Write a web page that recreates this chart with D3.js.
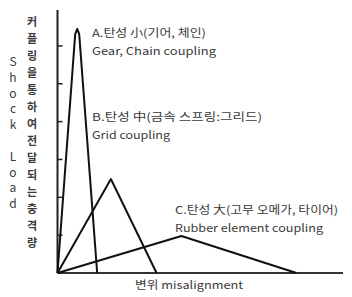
<!DOCTYPE html>
<html>
<head>
<meta charset="UTF-8">
<script src="https://cdn.jsdelivr.net/npm/d3@7"></script>
<style>
  body { margin: 0; background: #fff; }
  text { fill: #3a3a3a; font-family: "Noto Sans CJK KR", "Noto Sans", sans-serif; }
</style>
</head>
<body>
<svg width="352" height="297"></svg>
<script>
  // shock load vs misalignment (0..100 units)
  var curveA = [[0, 0], [6.2, 91.5], [6.9, 93.5], [7.6, 91.5], [13.9, 0]];
  var curveB = [[0, 0], [18.7, 36], [34.7, 0]];
  var curveC = [[0, 0], [43.4, 14.2], [83.7, 0]];
  var yTicks = [14.5, 29, 43.5, 58, 72.5, 87];

  var labelA = ["A.탄성 小(기어, 체인)", "Gear, Chain coupling"];
  var labelB = ["B.탄성 中(금속 스프링:그리드)", "Grid coupling"];
  var labelC = ["C.탄성 大(고무 오메가, 타이어)", "Rubber element coupling"];
  var xTitle = "변위 misalignment";
  var yTitleKo = "커플링을통하여전달되는충격량";
  var yTitleEn = "Shock Load";

  var svg = d3.select("svg");

  var x = d3.scaleLinear().domain([0, 100]).range([57.5, 343]);
  var y = d3.scaleLinear().domain([0, 100]).range([273, 12]);

  var line = d3.line()
      .x(function(d) { return x(d[0]); })
      .y(function(d) { return y(d[1]); });

  // axes
  svg.append("line")
      .attr("x1", x(0)).attr("x2", x(0))
      .attr("y1", 10).attr("y2", y(0))
      .attr("stroke", "#222").attr("stroke-width", 2);

  svg.append("line")
      .attr("x1", x(0)).attr("x2", x(100))
      .attr("y1", y(0)).attr("y2", y(0))
      .attr("stroke", "#333").attr("stroke-width", 2);

  svg.selectAll("line.tick").data(yTicks).enter()
      .append("line")
      .attr("class", "tick")
      .attr("x1", x(0)).attr("x2", x(0) + 5)
      .attr("y1", function(d) { return y(d); })
      .attr("y2", function(d) { return y(d); })
      .attr("stroke", "#222").attr("stroke-width", 1.5);

  svg.selectAll("path.curve").data([curveA, curveB, curveC]).enter()
      .append("path")
      .attr("class", "curve")
      .attr("fill", "none")
      .attr("stroke", "#111")
      .attr("stroke-width", 2)
      .attr("stroke-linejoin", "round")
      .attr("d", line);

  function label(lines, lx, ly, widths) {
    lines.forEach(function(t, i) {
      svg.append("text")
          .attr("x", lx).attr("y", ly + i * 18)
          .attr("font-size", 11)
          .attr("textLength", widths[i])
          .attr("lengthAdjust", "spacingAndGlyphs")
          .text(t);
    });
  }

  label(labelA, 92, 37, [114, 124]);
  label(labelB, 92, 121, [170, 78]);
  label(labelC, 175, 214, [163, 148]);

  svg.append("text")
      .attr("x", 135).attr("y", 289)
      .attr("font-size", 11)
      .attr("textLength", 108)
      .attr("lengthAdjust", "spacingAndGlyphs")
      .text(xTitle);

  // stacked vertical titles
  svg.selectAll("text.ko").data(yTitleKo.split("")).enter()
      .append("text")
      .attr("class", "ko")
      .attr("x", 32).attr("y", function(d, i) { return 26 + i * 17; })
      .attr("text-anchor", "middle")
      .attr("font-size", 11)
      .attr("font-weight", "bold")
      .text(function(d) { return d; });

  svg.selectAll("text.en").data(yTitleEn.split("")).enter()
      .append("text")
      .attr("class", "en")
      .attr("x", 13).attr("y", function(d, i) { return 66 + i * 15.8; })
      .attr("text-anchor", "middle")
      .attr("font-size", 12)
      .attr("font-family", "Liberation Sans, Arial, sans-serif")
      .text(function(d) { return d; });
</script>
</body>
</html>
